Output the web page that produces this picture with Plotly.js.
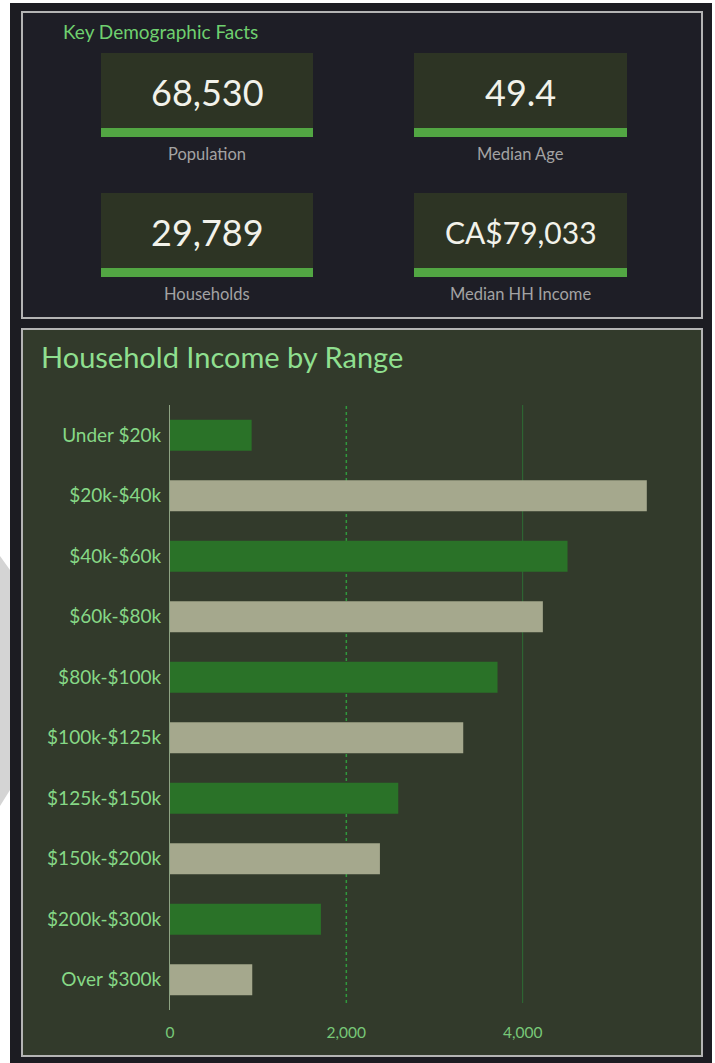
<!DOCTYPE html>
<html>
<head>
<meta charset="utf-8">
<script src="https://cdn.plot.ly/plotly-3.0.1.min.js"></script>
<style>
  html, body { margin: 0; padding: 0; background: #ffffff; }
  #chart { width: 715px; height: 1063px; }
</style>
</head>
<body>
<div id="chart"></div>
<script>
// ---- Data ----
const categories = ['Under $20k', '$20k-$40k', '$40k-$60k', '$60k-$80k', '$80k-$100k',
                    '$100k-$125k', '$125k-$150k', '$150k-$200k', '$200k-$300k', 'Over $300k'];
const households = [926, 5408, 4509, 4229, 3715, 3326, 2589, 2381, 1712, 933];
const xTickValues = [0, 2000, 4000];
const kpiValues = ['68,530', '49.4', '29,789', 'CA$79,033'];
const kpiLabels = ['Population', 'Median Age', 'Households', 'Median HH Income'];
const panelTitles = ['Key Demographic Facts', 'Household Income by Range'];

// ---- Styles / layout helpers ----
const W = 715, H = 1063;
const M = { l: 170, r: 16, t: 405, b: 53 };
const PW = W - M.l - M.r, PH = H - M.t - M.b;
const px = x => (x - M.l) / PW;
const py = y => (H - M.b - y) / PH;
const FONT = 'Lato, "Open Sans", sans-serif';
const barPalette = ['#2a7228', '#a5a88d'];
const kpiFontSizes = [36, 36, 36, 30];

const shapes = [];
const annotations = [];
function rect(x0, y0, x1, y1, fill, line, lw, layer) {
  shapes.push({ type: 'rect', xref: 'paper', yref: 'paper', layer: layer || 'below',
    x0: px(x0), x1: px(x1), y0: py(y1), y1: py(y0),
    fillcolor: fill, line: { color: line || 'rgba(0,0,0,0)', width: lw || 0 } });
}
function text(t, x, y, size, color, xanchor) {
  annotations.push({ text: t, xref: 'paper', yref: 'paper', x: px(x), y: py(y),
    xanchor: xanchor || 'center', yanchor: 'middle', showarrow: false,
    font: { family: FONT, size: size, color: color } });
}

// page background (dark)
rect(10, 3, 712, 1063, '#1c1c22');
// watermark fragment on the left white strip
shapes.push({ type: 'path', xref: 'paper', yref: 'paper', layer: 'below',
  path: `M ${px(0)} ${py(556)} L ${px(10)} ${py(570)} L ${px(10)} ${py(790)} L ${px(0)} ${py(806)} Z`,
  fillcolor: '#d4d4d4', line: { width: 0 } });

// top panel
rect(22, 12, 702, 318, '#1e1e26', '#b4b4b4', 2);
// bottom panel
rect(22, 329, 702, 1056, '#323a2b', '#b4b4b4', 2);

// KPI boxes
const cols = [[101, 313], [414, 627]];
const rows = [[53, 137], [193, 277]];
for (let i = 0; i < kpiValues.length; i++) {
  const c = cols[i % 2], r = rows[Math.floor(i / 2)];
  rect(c[0], r[0], c[1], r[1], '#2d3424');
  rect(c[0], r[1] - 9, c[1], r[1], '#52a643');
  text(kpiValues[i], (c[0] + c[1]) / 2, r[0] + 39, kpiFontSizes[i], '#f2f2ea');
  text(kpiLabels[i], (c[0] + c[1]) / 2, r[1] + 17, 16.5, '#a3a3a3');
}

// titles
text(panelTitles[0], 61, 31, 19, '#6fd06f', 'left');
text(panelTitles[1], 39, 356, 29, '#8fdf8f', 'left');

// gridlines (from tick values)
shapes.push({ type: 'line', xref: 'x', yref: 'paper', x0: xTickValues[1], x1: xTickValues[1],
  y0: py(1003), y1: 1, layer: 'below', line: { color: '#2f9a3d', width: 1.5, dash: 'dot' } });
shapes.push({ type: 'line', xref: 'x', yref: 'paper', x0: xTickValues[2], x1: xTickValues[2],
  y0: py(1003), y1: 1, layer: 'below', line: { color: '#2d6c35', width: 1 } });

const trace = {
  type: 'bar',
  orientation: 'h',
  y: categories,
  x: households,
  width: 0.51,
  marker: { color: categories.map((_, i) => barPalette[i % 2]) },
  hoverinfo: 'x+y'
};

const layout = {
  width: W, height: H,
  margin: M,
  paper_bgcolor: '#ffffff',
  plot_bgcolor: 'rgba(0,0,0,0)',
  showlegend: false,
  xaxis: {
    range: [0, 6000],
    tickvals: xTickValues,
    tickformat: ',',
    showgrid: false, zeroline: false, showline: false,
    ticks: 'outside', ticklen: 8, tickcolor: 'rgba(0,0,0,0)',
    tickfont: { family: FONT, size: 15.5, color: '#78c878' },
    fixedrange: true
  },
  yaxis: {
    autorange: 'reversed',
    showgrid: false, zeroline: false,
    showline: true, linecolor: '#8ea383', linewidth: 1,
    ticks: 'outside', ticklen: 4, tickcolor: 'rgba(0,0,0,0)',
    tickfont: { family: FONT, size: 19, color: '#86d886' },
    fixedrange: true
  },
  shapes: shapes,
  annotations: annotations
};

Plotly.newPlot('chart', [trace], layout, { displayModeBar: false, staticPlot: true });
</script>
</body>
</html>
